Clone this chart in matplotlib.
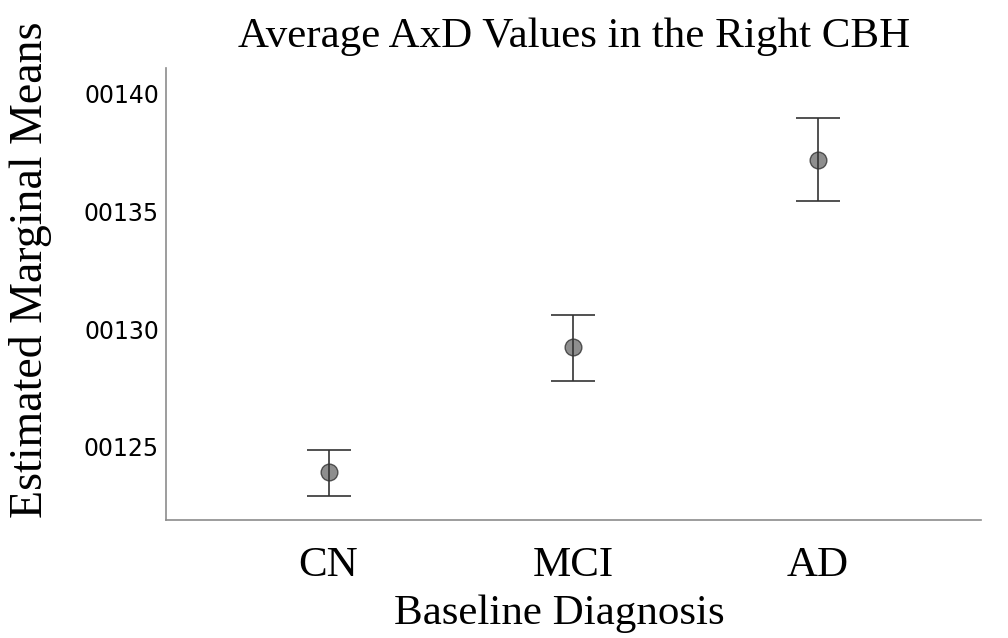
import numpy as np
import matplotlib
matplotlib.use("Agg")
import matplotlib.pyplot as plt
from matplotlib.ticker import FixedLocator, FuncFormatter

# estimated marginal means of AxD with 95% CI, per baseline diagnosis
groups = ["CN", "MCI", "AD"]
means = [0.0012394, 0.0012924, 0.0013716]
ci_low = [0.0012292, 0.0012780, 0.0013542]
ci_high = [0.0012487, 0.0013059, 0.0013894]
yticks = [0.00125, 0.00130, 0.00135, 0.00140]

SERIF = "Liberation Serif"

fig = plt.figure(figsize=(10.08, 6.38), dpi=100)
ax = fig.add_axes([0.1647, 0.185, 0.809, 0.708])

x = np.arange(len(groups))
m = np.array(means)
yerr = np.vstack([m - np.array(ci_low), np.array(ci_high) - m])

ax.plot(x, m, "o", ms=12, mfc="#7a7a7a", mec="#3a3a3a", mew=1.0, alpha=0.85, zorder=2)
ax.errorbar(x, m, yerr=yerr, fmt="none", ecolor="#333333", elinewidth=1.2,
            capsize=15.5, capthick=1.2, zorder=3)

ax.set_xlim(-0.665, 2.67)
ax.set_ylim(0.0012190, 0.0014106)
ax.set_xticks(x)
ax.set_xticklabels(groups, fontfamily=SERIF, fontsize=31)
ax.yaxis.set_major_locator(FixedLocator(yticks))
ax.yaxis.set_major_formatter(FuncFormatter(lambda v, p: f"{v:.5f}".replace("0.", "", 1)))
ax.tick_params(axis="y", length=0, labelsize=17, pad=5)
ax.tick_params(axis="x", length=0, pad=19)

for s in ["top", "right"]:
    ax.spines[s].set_visible(False)
for s in ["left", "bottom"]:
    ax.spines[s].set_color("#8c8c8c")
    ax.spines[s].set_linewidth(1.2)

ax.set_xlabel("Baseline Diagnosis", fontfamily=SERIF, fontsize=31)
ax.xaxis.set_label_coords(0.482, -0.166)
ax.set_ylabel("Estimated Marginal Means", fontfamily=SERIF, fontsize=33)
ax.yaxis.set_label_coords(-0.14, 0.553)
ax.set_title("Average AxD Values in the Right CBH", fontfamily=SERIF, fontsize=31, pad=15)

fig.savefig("out.png", dpi=100)
